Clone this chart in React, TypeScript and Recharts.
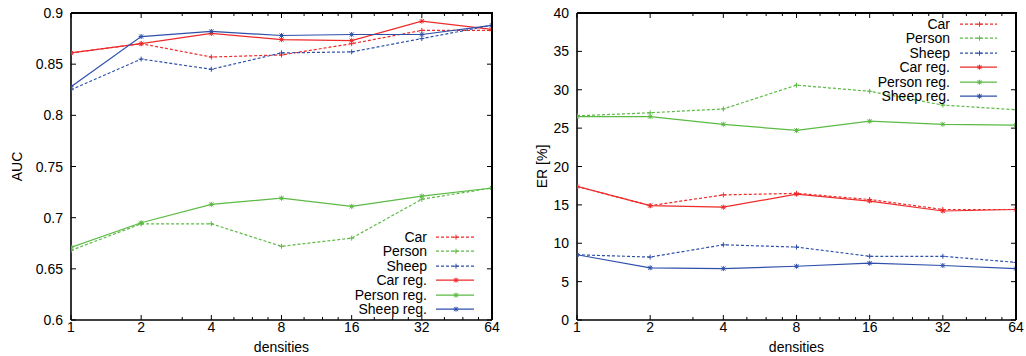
import { Legend, Line, LineChart, ReferenceLine, XAxis, YAxis } from "recharts"

const densities = [1, 2, 4, 8, 16, 32, 64]
const densityMinor = [3, 5, 6, 7, 10, 12, 14, 20, 24, 28, 40, 48, 56]
const aucTicks = [0.6, 0.65, 0.7, 0.75, 0.8, 0.85, 0.9]
const erTicks = [0, 5, 10, 15, 20, 25, 30, 35, 40]

// AUC per density
const aucCar = [0.861, 0.87, 0.857, 0.859, 0.87, 0.883, 0.883]
const aucPerson = [0.668, 0.694, 0.694, 0.672, 0.68, 0.718, 0.729]
const aucSheep = [0.825, 0.855, 0.845, 0.861, 0.862, 0.875, 0.888]
const aucCarReg = [0.861, 0.87, 0.88, 0.874, 0.873, 0.892, 0.884]
const aucPersonReg = [0.671, 0.695, 0.713, 0.719, 0.711, 0.721, 0.729]
const aucSheepReg = [0.828, 0.877, 0.882, 0.878, 0.879, 0.879, 0.888]

// error rate [%] per density
const erCar = [17.4, 14.9, 16.3, 16.5, 15.7, 14.4, 14.4]
const erPerson = [26.6, 27.0, 27.5, 30.6, 29.8, 28.0, 27.4]
const erSheep = [8.5, 8.2, 9.8, 9.5, 8.3, 8.3, 7.5]
const erCarReg = [17.4, 14.9, 14.7, 16.4, 15.5, 14.2, 14.4]
const erPersonReg = [26.5, 26.5, 25.5, 24.7, 25.9, 25.5, 25.4]
const erSheepReg = [8.5, 6.8, 6.7, 7.0, 7.4, 7.1, 6.7]

const RED = "#ee2a2a"
const GREEN = "#5cba45"
const BLUE = "#2e50aa"
const FONT = "'Liberation Sans', Arial, sans-serif"

const series = [
  { key: "car", name: "Car", color: RED, dashed: true },
  { key: "person", name: "Person", color: GREEN, dashed: true },
  { key: "sheep", name: "Sheep", color: BLUE, dashed: true },
  { key: "carReg", name: "Car reg.", color: RED, dashed: false },
  { key: "personReg", name: "Person reg.", color: GREEN, dashed: false },
  { key: "sheepReg", name: "Sheep reg.", color: BLUE, dashed: false },
]

const buildRows = (cols: number[][]) =>
  densities.map((d, i) => {
    const row: Record<string, number> = { d }
    series.forEach((s, j) => (row[s.key] = cols[j][i]))
    return row
  })

const aucData = buildRows([aucCar, aucPerson, aucSheep, aucCarReg, aucPersonReg, aucSheepReg])
const erData = buildRows([erCar, erPerson, erSheep, erCarReg, erPersonReg, erSheepReg])

const allXTicks = [...densities, ...densityMinor].sort((a, b) => a - b)

const PLOT_TOP = 13
const X_AXIS_H = 36
const CHART_W = 513
const CHART_H = 356

function Marker({ cx, cy, color, star }: any) {
  if (cx == null || cy == null) return null
  const r = 2.5
  return (
    <g stroke={color} strokeWidth={1}>
      <line x1={cx - r} y1={cy} x2={cx + r} y2={cy} />
      <line x1={cx} y1={cy - r} x2={cx} y2={cy + r} />
      {star && (
        <>
          <line x1={cx - 2} y1={cy - 2} x2={cx + 2} y2={cy + 2} />
          <line x1={cx - 2} y1={cy + 2} x2={cx + 2} y2={cy - 2} />
        </>
      )}
    </g>
  )
}

// bottom tick, plus its mirror on the top border (gnuplot style, pointing inward)
function XTick({ x, y, payload, topY }: any) {
  const major = densities.includes(payload.value)
  const len = major ? 5 : 3
  return (
    <g>
      <line x1={x} y1={y} x2={x} y2={y - len} stroke="#000" strokeWidth={1} />
      <line x1={x} y1={topY} x2={x} y2={topY + len} stroke="#000" strokeWidth={1} />
      {major && (
        <text x={x} y={y + 12} textAnchor="middle" fontSize={14} fontFamily={FONT} fill="#000">
          {payload.value}
        </text>
      )}
    </g>
  )
}

// left tick, plus its mirror on the right border
function YTick({ x, y, payload, rightX }: any) {
  return (
    <g>
      <line x1={x} y1={y} x2={x + 5} y2={y} stroke="#000" strokeWidth={1} />
      <line x1={rightX} y1={y} x2={rightX - 5} y2={y} stroke="#000" strokeWidth={1} />
      <text x={x - 8} y={y + 5} textAnchor="end" fontSize={14} fontFamily={FONT} fill="#000">
        {payload.value}
      </text>
    </g>
  )
}

function YTitle({ viewBox, text, dx }: any) {
  const cx = viewBox.x + dx
  const cy = viewBox.y + viewBox.height / 2
  return (
    <text
      x={cx}
      y={cy}
      dy="0.35em"
      transform={`rotate(-90, ${cx}, ${cy})`}
      textAnchor="middle"
      fontSize={14}
      fontFamily={FONT}
      fill="#000"
    >
      {text}
    </text>
  )
}

// rows drawn in the series order (recharts sorts its payload by name)
function LegendBox({ gap, lineWidth }: any) {
  return (
    <div style={{ fontFamily: FONT, fontSize: 14, lineHeight: "14.4px", color: "#000" }}>
      {series.map((s) => (
        <div key={s.key} style={{ display: "flex", alignItems: "center", height: 14.4 }}>
          <span style={{ width: 100, textAlign: "right", whiteSpace: "nowrap" }}>{s.name}</span>
          <svg width={lineWidth} height={14.4} style={{ marginLeft: gap, display: "block" }}>
            <line
              x1={0}
              y1={7.2}
              x2={lineWidth}
              y2={7.2}
              stroke={s.color}
              strokeWidth={1.2}
              strokeDasharray={s.dashed ? "3 2" : undefined}
            />
            <Marker cx={lineWidth / 2 + 1} cy={7.2} color={s.color} star={!s.dashed} />
          </svg>
        </div>
      ))}
    </div>
  )
}

function Panel({ data, domain, ticks, title, titleDx, yWidth, rightWidth, legendPos, legendGap, legendLine }: any) {
  const frame = { stroke: "#000", strokeWidth: 1.6 }
  const rightX = CHART_W - rightWidth
  return (
    <div style={{ position: "relative", width: CHART_W, height: CHART_H }}>
      <LineChart
        width={CHART_W}
        height={CHART_H}
        data={data}
        margin={{ top: PLOT_TOP, right: rightWidth, bottom: 0, left: 0 }}
      >
        <XAxis
          xAxisId="b"
          dataKey="d"
          type="number"
          scale="log"
          domain={[1, 64]}
          allowDataOverflow
          ticks={allXTicks}
          interval={0}
          height={X_AXIS_H}
          tickSize={0}
          tickMargin={0}
          tickLine={false}
          axisLine={frame}
          tick={(p: any) => <XTick {...p} topY={PLOT_TOP} />}
          label={{ value: "densities", position: "insideBottom", offset: 4, fontSize: 14, fill: "#000", fontFamily: FONT }}
        />
        <YAxis
          yAxisId="l"
          type="number"
          domain={domain}
          allowDataOverflow
          ticks={ticks}
          interval={0}
          width={yWidth}
          tickSize={0}
          tickMargin={0}
          tickLine={false}
          axisLine={frame}
          tick={(p: any) => <YTick {...p} rightX={rightX} />}
          label={(p: any) => <YTitle {...p} text={title} dx={titleDx} />}
        />
        {/* top and right borders of the box */}
        <ReferenceLine xAxisId="b" yAxisId="l" y={domain[1]} stroke="#000" strokeWidth={1.6} ifOverflow="visible" />
        <ReferenceLine xAxisId="b" yAxisId="l" x={64} stroke="#000" strokeWidth={1.6} ifOverflow="visible" />
        <Legend
          layout="vertical"
          align="center"
          verticalAlign="middle"
          wrapperStyle={{ left: legendPos[0], top: legendPos[1] }}
          content={() => <LegendBox gap={legendGap} lineWidth={legendLine} />}
        />
        {series.map((s) => (
          <Line
            key={s.key}
            xAxisId="b"
            yAxisId="l"
            dataKey={s.key}
            name={s.name}
            stroke={s.color}
            strokeWidth={1.2}
            strokeDasharray={s.dashed ? "3 2" : undefined}
            isAnimationActive={false}
            activeDot={false}
            dot={(p: any) => <Marker key={`${s.key}-${p.index}`} cx={p.cx} cy={p.cy} color={s.color} star={!s.dashed} />}
          />
        ))}
      </LineChart>
      {/* box outline over the plot area, in case the svg borders are not drawn */}
      <div
        style={{
          position: "absolute",
          left: yWidth,
          top: PLOT_TOP - 1,
          width: rightX - yWidth + 1,
          height: CHART_H - X_AXIS_H - PLOT_TOP + 1,
          borderTop: "2px solid #000",
          borderRight: "2px solid #000",
          boxSizing: "border-box",
          pointerEvents: "none",
        }}
      />
    </div>
  )
}

export default function App() {
  return (
    <div style={{ position: "absolute", left: 0, top: 0, width: 1026, height: 356, background: "#fff" }}>
      <div style={{ position: "absolute", left: 0, top: 0 }}>
        <Panel
          data={aucData}
          domain={[0.6, 0.9]}
          ticks={aucTicks}
          title="AUC"
          titleDx={17}
          yWidth={71}
          rightWidth={21}
          legendPos={[327, 230]}
          legendGap={9}
          legendLine={38}
        />
      </div>
      <div style={{ position: "absolute", left: 513, top: 0 }}>
        <Panel
          data={erData}
          domain={[0, 40]}
          ticks={erTicks}
          title="ER [%]"
          titleDx={29}
          yWidth={64}
          rightWidth={10}
          legendPos={[337, 17]}
          legendGap={10}
          legendLine={37}
        />
      </div>
    </div>
  )
}
